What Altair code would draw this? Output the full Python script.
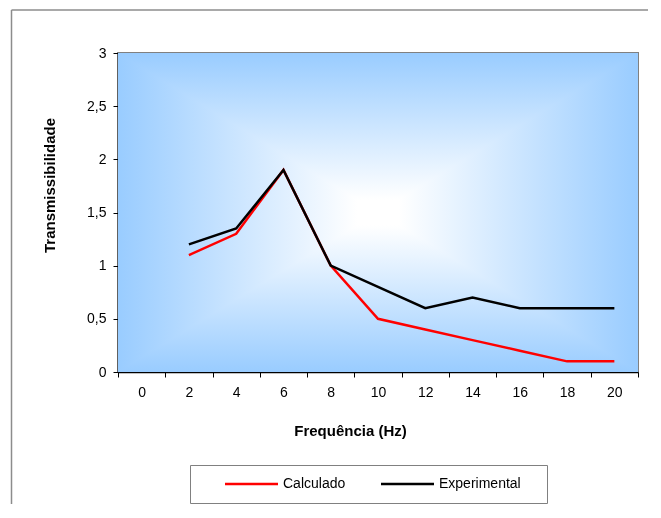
import altair as alt
import pandas as pd

# ---- data ----
categories = ["0", "2", "4", "6", "8", "10", "12", "14", "16", "18", "20"]
freq = ["2", "4", "6", "8", "10", "12", "14", "16", "18", "20"]
calculado = [1.1, 1.3, 1.9, 1.0, 0.5, 0.4, 0.3, 0.2, 0.1, 0.1]
experimental = [1.2, 1.35, 1.9, 1.0, 0.8, 0.6, 0.7, 0.6, 0.6, 0.6]
series = ["Calculado", "Experimental"]
series_colors = ["#FF0000", "#000000"]
y_ticks = [0, 0.5, 1, 1.5, 2, 2.5, 3]

rows = []
for name, vals in zip(series, [calculado, experimental]):
    for f, v in zip(freq, vals):
        rows.append({"Hz": f, "valor": v, "serie": name})
df = pd.DataFrame(rows)

W, H = 520, 319
FONT = "Liberation Sans"
BLUE = "#99CCFF"

one = pd.DataFrame({"k": [0]})

frame_top = alt.Chart(one).mark_rule(color="#8c8c8c", strokeWidth=1.5).encode(
    x=alt.value(-106.5), x2=alt.value(700), y=alt.value(-43)
)
frame_left = alt.Chart(one).mark_rule(color="#8c8c8c", strokeWidth=1.5).encode(
    x=alt.value(-106.5), y=alt.value(-43), y2=alt.value(700)
)

stops = [
    {"offset": 0, "color": BLUE},
    {"offset": 0.46, "color": "#FFFFFF"},
    {"offset": 0.54, "color": "#FFFFFF"},
    {"offset": 1, "color": BLUE},
]

bg_h = alt.Chart(one).mark_rect(
    fill={"gradient": "linear", "x1": 0, "y1": 0, "x2": 1, "y2": 0, "stops": stops}
).encode(x=alt.value(0), y=alt.value(0), x2=alt.value(W), y2=alt.value(H))

bg_v = alt.Chart(one).mark_rect(
    blend="darken",
    fill={"gradient": "linear", "x1": 0, "y1": 0, "x2": 0, "y2": 1, "stops": stops},
).encode(x=alt.value(0), y=alt.value(0), x2=alt.value(W), y2=alt.value(H))

lines = alt.Chart(df).mark_line(strokeWidth=2.5).encode(
    x=alt.X(
        "Hz:O",
        sort=categories,
        bandPosition=0.5,
        scale=alt.Scale(type="band", domain=categories, paddingInner=0, paddingOuter=0),
        axis=alt.Axis(
            title="Frequência (Hz)",
            labelAngle=0,
            tickBand="extent",
            tickSize=5,
            labelPadding=8,
            labelFont=FONT,
            labelFontSize=14,
            labelColor="black",
            domainColor="black",
            domainWidth=1.5,
            tickColor="black",
            titleFont=FONT,
            titleFontSize=15,
            titleFontWeight="bold",
            titleColor="black",
            titleX=232,
            titleY=58,
            titleAlign="center",
            titleBaseline="middle",
        ),
    ),
    y=alt.Y(
        "valor:Q",
        scale=alt.Scale(domain=[0, 3], nice=False),
        axis=alt.Axis(
            title="Transmissibilidade",
            values=y_ticks,
            labelExpr="replace(format(datum.value, '~g'), '.', ',')",
            grid=False,
            tickSize=5,
            labelPadding=7,
            labelFont=FONT,
            labelFontSize=14,
            labelColor="black",
            domainColor="black",
            domainWidth=1.5,
            tickColor="black",
            titleFont=FONT,
            titleFontSize=15,
            titleFontWeight="bold",
            titleColor="black",
            titleX=-69,
            titleY=132,
            titleAngle=270,
            titleAlign="center",
            titleBaseline="middle",
        ),
    ),
    color=alt.Color(
        "serie:N",
        sort=series,
        scale=alt.Scale(domain=series, range=series_colors),
        legend=alt.Legend(
            title="W",
            titleOrient="right",
            titleColor="transparent",
            titleFontSize=11,
            titlePadding=3,
            orient="none",
            legendX=72,
            legendY=412,
            direction="horizontal",
            symbolType="M3.2,0L13.8,0",
            symbolSize=100,
            symbolStrokeWidth=2.5,
            labelOffset=67,
            labelFont=FONT,
            labelFontSize=14,
            labelColor="black",
            strokeColor="#808080",
            padding=12,
            columnPadding=12,
        ),
    ),
)

chart = alt.layer(frame_top, frame_left, bg_h, bg_v, lines).properties(
    width=W,
    height=H,
    autosize=alt.AutoSizeParams(type="none"),
    padding={"left": 110, "top": 45, "right": 10, "bottom": 132},
    background="white",
).configure_view(stroke="#808080", strokeWidth=2)

chart.save("out.html", embed_options={"renderer": "svg", "actions": False})
